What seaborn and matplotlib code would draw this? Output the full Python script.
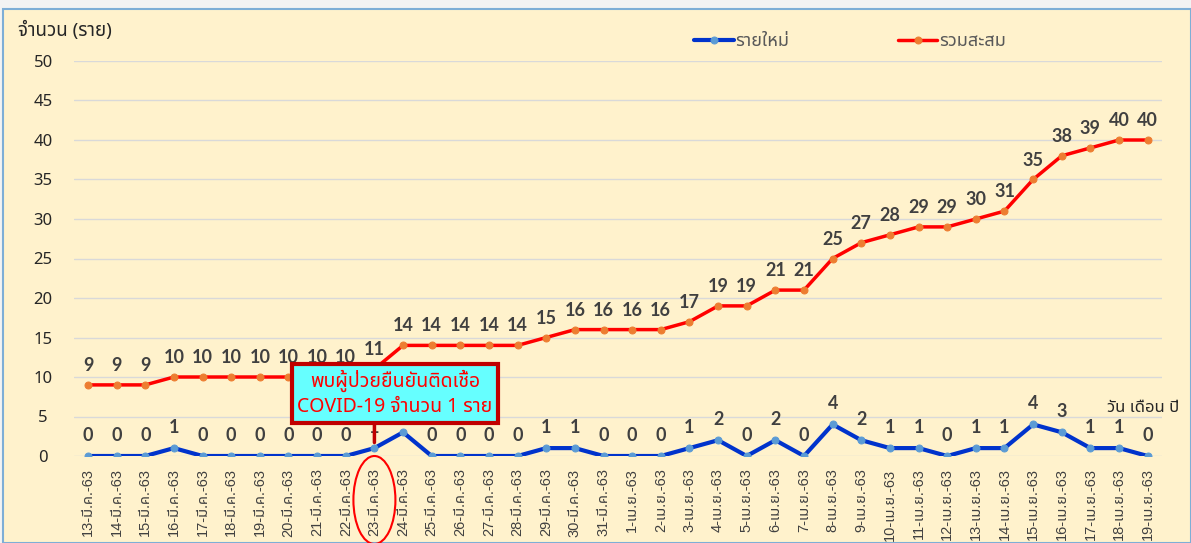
import matplotlib
matplotlib.use("Agg")
import matplotlib.pyplot as plt
from matplotlib import font_manager
from matplotlib.patches import Ellipse, Rectangle
import seaborn as sns
import pandas as pd

# ---------------- data ----------------
dates = ["13-มี.ค.-63", "14-มี.ค.-63", "15-มี.ค.-63", "16-มี.ค.-63", "17-มี.ค.-63",
         "18-มี.ค.-63", "19-มี.ค.-63", "20-มี.ค.-63", "21-มี.ค.-63", "22-มี.ค.-63",
         "23-มี.ค.-63", "24-มี.ค.-63", "25-มี.ค.-63", "26-มี.ค.-63", "27-มี.ค.-63",
         "28-มี.ค.-63", "29-มี.ค.-63", "30-มี.ค.-63", "31-มี.ค.-63",
         "1-เม.ย.-63", "2-เม.ย.-63", "3-เม.ย.-63", "4-เม.ย.-63", "5-เม.ย.-63",
         "6-เม.ย.-63", "7-เม.ย.-63", "8-เม.ย.-63", "9-เม.ย.-63", "10-เม.ย.-63",
         "11-เม.ย.-63", "12-เม.ย.-63", "13-เม.ย.-63", "14-เม.ย.-63", "15-เม.ย.-63",
         "16-เม.ย.-63", "17-เม.ย.-63", "18-เม.ย.-63", "19-เม.ย.-63"]
new_cases = [0, 0, 0, 1, 0, 0, 0, 0, 0, 0, 1, 3, 0, 0, 0, 0, 1, 1, 0,
             0, 0, 1, 2, 0, 2, 0, 4, 2, 1, 1, 0, 1, 1, 4, 3, 1, 1, 0]
cumulative = [9, 9, 9, 10, 10, 10, 10, 10, 10, 10, 11, 14, 14, 14, 14, 14, 15, 16, 16,
              16, 16, 17, 19, 19, 21, 21, 25, 27, 28, 29, 29, 30, 31, 35, 38, 39, 40, 40]
series_names = ["รายใหม่", "รวมสะสม"]
y_ticks = [0, 5, 10, 15, 20, 25, 30, 35, 40, 45, 50]
y_title = "จำนวน (ราย)"
x_title = "วัน เดือน ปี"
note_text = "พบผู้ป่วยยืนยันติดเชื้อ\nCOVID-19 จำนวน 1 ราย"
note_index = 10

# ---------------- fonts ----------------
names = {f.name for f in font_manager.fontManager.ttflist}
thai = next((n for n in ["Noto Sans Thai", "Sarabun", "IBM Plex Sans Thai", "Anuphan", "Athiti"]
             if n in names), "DejaVu Sans")
sns.set_theme(style="white")
FAM = ["Noto Sans", thai, "DejaVu Sans"]
plt.rcParams["font.family"] = FAM
BOLD_FAM = ["Lato", "Liberation Sans", "DejaVu Sans"]
TICK_FAM = ["Liberation Sans", thai, "DejaVu Sans"]

BG = "#FFF2CC"
df = pd.DataFrame({"idx": list(range(len(dates))), "new": new_cases, "cum": cumulative})

fig = plt.figure(figsize=(11.91, 5.43), dpi=100)
fig.patch.set_facecolor("#F3F3F3")
W, H = 1191, 543
fig.add_artist(Rectangle((3 / W, 0), 1 - 3 / W, (H - 9) / H, transform=fig.transFigure,
                         facecolor=BG, edgecolor="#7EAED6", linewidth=1.5, zorder=0))

ax = fig.add_axes([73.7 / W, (H - 456) / H, (1162 - 73.7) / W, (456 - 61) / H])
ax.set_facecolor("none")

sns.lineplot(data=df, x="idx", y="cum", ax=ax, color="#FF0000", linewidth=2.5,
             marker="o", markersize=5, markerfacecolor="#ED7D31", markeredgecolor="#ED7D31",
             zorder=3, label=series_names[1], legend=False)
sns.lineplot(data=df, x="idx", y="new", ax=ax, color="#0033CC", linewidth=3,
             marker="o", markersize=5, markerfacecolor="#5B9BD5", markeredgecolor="#5B9BD5",
             zorder=4, label=series_names[0], legend=False)

ax.set_xlim(-0.5, len(dates) - 0.5)
ax.set_ylim(0, 50)
ax.set_yticks(y_ticks)
ax.set_xticks(range(len(dates)))
ax.set_xticklabels(dates, rotation=90, fontsize=10.5, color="#404040", family=TICK_FAM)
ax.tick_params(axis="x", length=0, pad=9)
ax.tick_params(axis="y", length=0, pad=22, labelsize=12, labelcolor="#262626")
for t in ax.get_yticklabels():
    t.set_horizontalalignment("center")
ax.grid(axis="y", color="#D9D9D9", linewidth=1)
for s in ax.spines.values():
    s.set_visible(False)
ax.set_xlabel("")
ax.set_ylabel("")

# data labels
for i, (n, c) in enumerate(zip(new_cases, cumulative)):
    ax.annotate(str(n), (i, n), xytext=(0, 15), textcoords="offset points",
                ha="center", va="center", fontsize=13, fontweight="bold",
                family=BOLD_FAM, color="#404040", zorder=5)
    ax.annotate(str(c), (i, c), xytext=(0, 14), textcoords="offset points",
                ha="center", va="center", fontsize=13, fontweight="bold",
                family=BOLD_FAM, color="#404040", zorder=5)

# connector from note box down to the point
ax.annotate("", xy=(note_index, new_cases[note_index]), xytext=(note_index, 4.6),
            textcoords="data",
            arrowprops=dict(arrowstyle="-", color="#C00000", linewidth=2.5,
                            shrinkA=0, shrinkB=4),
            zorder=6)
# note box
ax.text(10.72, 7.9, note_text, ha="center", va="center", fontsize=14, color="#FF0000",
        linespacing=1.35,
        bbox=dict(boxstyle="square,pad=0.3", facecolor="#66FFFF", edgecolor="#C00000",
                  linewidth=3),
        zorder=7)

# ellipse around the tick label
fig.canvas.draw()
cx, _ = ax.transData.transform((note_index, 0))
fig.add_artist(Ellipse((cx, H - 500), 42, 88, transform=None, fill=False,
                       edgecolor="#FF0000", linewidth=1.5, clip_on=False, zorder=7))

# titles
fig.text(18 / W, 1 - 30 / H, y_title, ha="left", va="center", fontsize=13.5, color="#262626")
fig.text(1143 / W, 1 - 408 / H, x_title, ha="center", va="center", fontsize=12, color="#262626")

# legend
handles, labels = ax.get_legend_handles_labels()
order = [labels.index(series_names[0]), labels.index(series_names[1])]
fig.legend([handles[k] for k in order], [labels[k] for k in order],
           loc="center", bbox_to_anchor=(850 / W, 1 - 41 / H), ncol=2, frameon=False,
           fontsize=13, labelcolor="#595959", handlelength=2.2, handletextpad=0.1,
           columnspacing=6)

fig.savefig("out.png", dpi=100, facecolor=fig.get_facecolor())
